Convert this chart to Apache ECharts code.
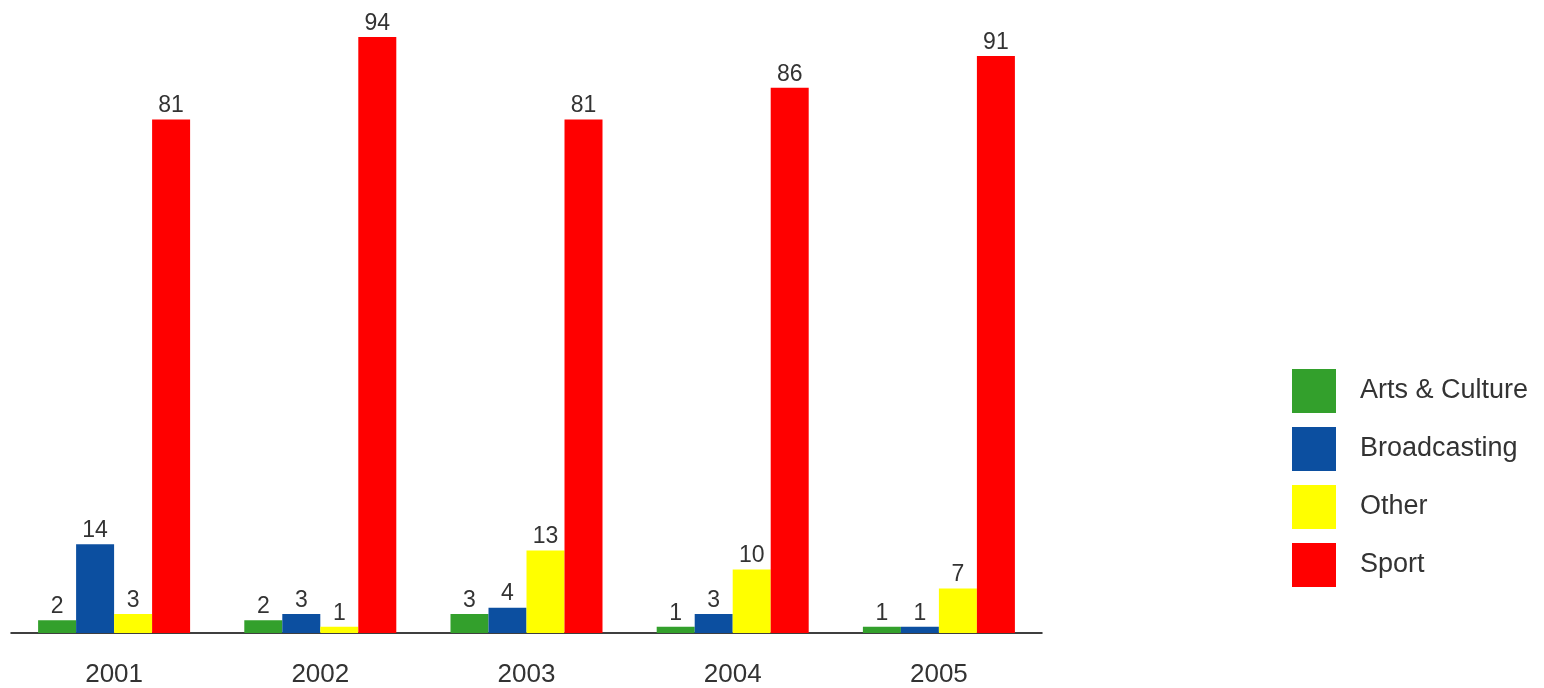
<!DOCTYPE html>
<html>
<head>
<meta charset="utf-8">
<script src="https://cdn.jsdelivr.net/npm/echarts@6/dist/echarts.min.js"></script>
<style>
html, body { margin: 0; padding: 0; background: #fff; }
#chart { width: 1544px; height: 688px; }
</style>
</head>
<body>
<div id="chart"></div>
<script>
// categories and values
var years = ['2001', '2002', '2003', '2004', '2005'];
var artsCulture = [2, 2, 3, 1, 1];
var broadcasting = [14, 3, 4, 3, 1];
var other = [3, 1, 13, 10, 7];
var sport = [81, 94, 81, 86, 91];

var myChart = echarts.init(document.getElementById('chart'));

function makeSeries(name, data, color) {
	return {
		name: name,
		type: 'bar',
		data: data,
		barWidth: 38,
		barGap: '0%',
		itemStyle: { color: color },
		label: {
			show: true,
			position: 'top',
			distance: 2,
			color: '#333',
			fontSize: 23,
			fontFamily: 'Liberation Sans, Arial, sans-serif'
		}
	};
}

var option = {
	animation: false,
	grid: { left: 11, right: 502, top: 37, bottom: 54 },
	legend: {
		orient: 'vertical',
		left: 1287,
		top: 364,
		itemWidth: 44,
		itemHeight: 44,
		itemGap: 14,
		icon: 'rect',
		textStyle: {
			color: '#333',
			fontSize: 27,
			fontFamily: 'Liberation Sans, Arial, sans-serif',
			padding: [10, 0, 0, 19]
		}
	},
	xAxis: {
		type: 'category',
		data: years,
		axisLine: { lineStyle: { color: '#000', width: 1.5 } },
		axisTick: { show: false },
		axisLabel: {
			color: '#333',
			fontSize: 26,
			margin: 29,
			fontFamily: 'Liberation Sans, Arial, sans-serif'
		}
	},
	yAxis: {
		type: 'value',
		min: 0,
		max: 94,
		show: false,
		splitLine: { show: false }
	},
	series: [
		makeSeries('Arts & Culture', artsCulture, '#33a02c'),
		makeSeries('Broadcasting', broadcasting, '#0c4fa0'),
		makeSeries('Other', other, '#ffff00'),
		makeSeries('Sport', sport, '#ff0000')
	]
};
myChart.setOption(option);
</script>
</body>
</html>
